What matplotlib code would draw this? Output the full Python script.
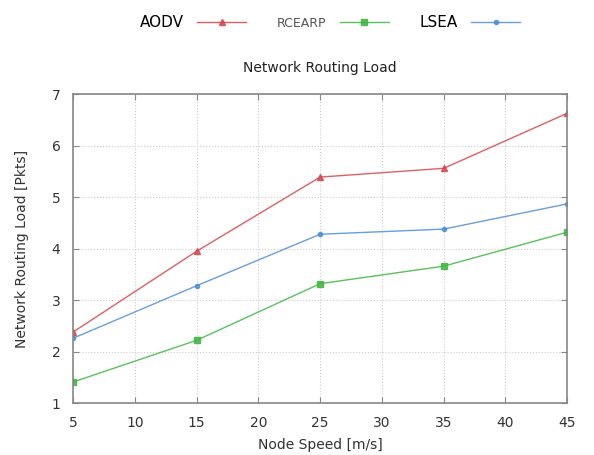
import matplotlib.pyplot as plt

# data
speed = [5, 15, 25, 35, 45]
aodv = [2.38, 3.95, 5.39, 5.56, 6.63]
rcearp = [1.41, 2.22, 3.32, 3.66, 4.32]
lsea = [2.26, 3.28, 4.28, 4.38, 4.87]

x_ticks = [5, 10, 15, 20, 25, 30, 35, 40, 45]
y_ticks = [1, 2, 3, 4, 5, 6, 7]

fig = plt.figure(figsize=(5.94, 4.55), dpi=100)
ax = fig.add_axes([0.123, 0.114, 0.832, 0.679])

ax.plot(speed, aodv, color='#d9434b', marker='^', markersize=4, linewidth=1.0, alpha=0.85, label='AODV')
ax.plot(speed, rcearp, color='#3cb83c', marker='s', markersize=4, linewidth=1.0, alpha=0.85, label='RCEARP')
ax.plot(speed, lsea, color='#4a8fd8', marker='o', markersize=3, linewidth=1.0, alpha=0.85, label='LSEA')

ax.set_xlim(5, 45)
ax.set_ylim(1, 7)
ax.set_xticks(x_ticks)
ax.set_yticks(y_ticks)
ax.grid(True, linestyle=':', color='#cccccc', linewidth=0.8)
ax.tick_params(direction='in', top=True, right=True, length=4, color='#888888',
               labelsize=10, labelcolor='#333333', pad=9)
for s in ax.spines.values():
    s.set_color('#888888')
    s.set_linewidth(1.2)

ax.set_title('Network Routing Load', fontsize=10, color='#222222', pad=16)
ax.set_xlabel('Node Speed [m/s]', fontsize=10, color='#333333', labelpad=6)
ax.set_ylabel('Network Routing Load [Pkts]', fontsize=10, color='#333333', labelpad=16)

leg = fig.legend(loc='upper center', bbox_to_anchor=(0.555, 0.995), ncol=3, frameon=False,
                 markerfirst=False, handlelength=3.5, columnspacing=2.2, handletextpad=1.0,
                 fontsize=10)
texts = leg.get_texts()
texts[0].set_fontsize(11)
texts[1].set_fontsize(9)
texts[1].set_color('#555555')
texts[2].set_fontsize(11)

fig.savefig('out.png', dpi=100)
